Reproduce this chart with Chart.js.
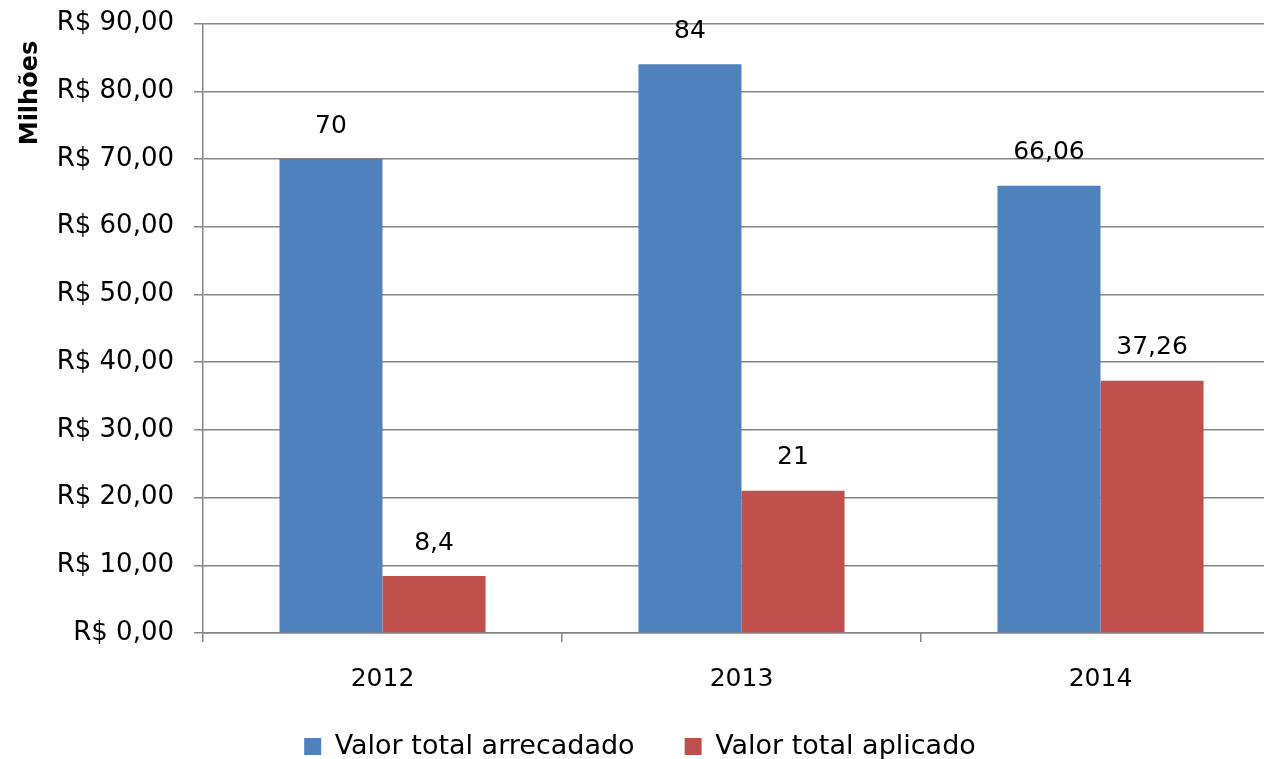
<!DOCTYPE html>
<html>
<head>
<meta charset="utf-8">
<script src="https://cdn.jsdelivr.net/npm/chart.js@4"></script>
<style>
  html, body { margin: 0; padding: 0; background: #fff; overflow: hidden; }
  #wrap { width: 1285px; height: 802px; margin-top: -12px; }
</style>
</head>
<body>
<div id="wrap"><canvas id="grafico" width="1285" height="802"></canvas></div>
<script>
const anos = ["2012", "2013", "2014"];
const arrecadado = [70, 84, 66.06];
const aplicado = [8.4, 21, 37.26];
const rotulosSeries = ["Valor total arrecadado", "Valor total aplicado"];
const fonte = "'DejaVu Sans', Tahoma, sans-serif";

// valores no formato brasileiro: 8,4 / 66,06
function formatoBR(v) {
  return String(v).replace(".", ",");
}

// rótulo de valor em cima de cada barra
const rotulosBarras = {
  id: "rotulosBarras",
  afterDatasetsDraw(chart) {
    const ctx = chart.ctx;
    ctx.save();
    ctx.font = "25px " + fonte;
    ctx.fillStyle = "#000";
    ctx.textAlign = "center";
    ctx.textBaseline = "middle";
    chart.data.datasets.forEach((ds, i) => {
      chart.getDatasetMeta(i).data.forEach((bar, j) => {
        ctx.fillText(formatoBR(ds.data[j]), bar.x, bar.y - 33);
      });
    });
    ctx.restore();
  }
};

// título do eixo Y, perto do topo
const tituloEixo = {
  id: "tituloEixo",
  afterDraw(chart) {
    const ctx = chart.ctx;
    ctx.save();
    ctx.translate(31, 105);
    ctx.rotate(-Math.PI / 2);
    ctx.font = "bold 24px " + fonte;
    ctx.fillStyle = "#000";
    ctx.textAlign = "center";
    ctx.textBaseline = "middle";
    ctx.fillText("Milhões", 0, 0);
    ctx.restore();
  }
};

// sobe a legenda um pouco, mais perto dos anos
const subirLegenda = {
  id: "subirLegenda",
  afterLayout(chart) {
    const d = 20;
    chart.legend.top -= d;
    chart.legend.bottom -= d;
  }
};

const ctx = document.getElementById("grafico").getContext("2d");
new Chart(ctx, {
  type: "bar",
  data: {
    labels: anos,
    datasets: [
      { label: rotulosSeries[0], data: arrecadado, backgroundColor: "#4F81BD" },
      { label: rotulosSeries[1], data: aplicado, backgroundColor: "#C0504D" }
    ]
  },
  options: {
    responsive: false,
    animation: false,
    layout: { padding: { top: 24, left: 0, right: 5, bottom: 0 } },
    datasets: { bar: { categoryPercentage: 0.574, barPercentage: 1 } },
    plugins: {
      legend: {
        position: "bottom",
        labels: {
          color: "#000",
          font: { family: fonte, size: 27 },
          boxWidth: 17,
          boxHeight: 17,
          padding: 50
        }
      },
      tooltip: { enabled: false }
    },
    scales: {
      x: {
        afterFit(scale) { scale.height = 70; },
        grid: {
          offset: true,
          drawOnChartArea: false,
          tickLength: 9,
          color: "#868686",
          lineWidth: 1.5
        },
        border: { color: "#868686", width: 1.5 },
        ticks: { color: "#000", font: { family: fonte, size: 25 }, padding: 22 }
      },
      y: {
        min: 0,
        max: 90,
        afterFit(scale) { scale.width = 203; },
        grid: { color: "#868686", lineWidth: 1.5, tickLength: 9 },
        border: { color: "#868686", width: 1.5 },
        ticks: {
          stepSize: 10,
          color: "#000",
          font: { family: fonte, size: 26 },
          padding: 20,
          callback: v => "R$ " + v.toFixed(2).replace(".", ",")
        }
      }
    }
  },
  plugins: [rotulosBarras, tituloEixo, subirLegenda]
});
</script>
</body>
</html>
